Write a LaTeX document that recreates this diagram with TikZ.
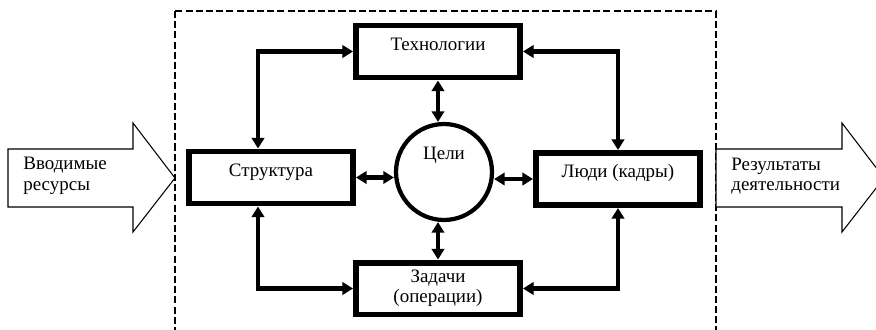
\documentclass[tikz,border=0pt]{standalone}
\usepackage{fontspec}
\setmainfont{Liberation Serif}
\usetikzlibrary{arrows.meta,calc}
\tikzstyle{blk}=[rectangle, draw, line width=3.4pt, fill=white, minimum width=3.28cm, minimum height=1.04cm, align=center]
\tikzstyle{blktop}=[text height=8pt, text depth=9.5pt]
\tikzstyle{aimc}=[circle, draw, line width=2.4pt, fill=white, minimum size=1.92cm, inner sep=0pt, text height=8pt, text depth=22pt]
\tikzstyle{link}=[line width=2.6pt, arrows={Triangle[length=6pt,width=7pt]-Triangle[length=6pt,width=7pt]}]
\tikzstyle{bigarr}=[draw, line width=0.6pt, fill=white]
\tikzstyle{lbl}=[align=left, inner sep=0pt, anchor=west]

\begin{document}
\begin{tikzpicture}[x=0.02cm, y=-0.02cm, font=\fontsize{10.8}{11.6}\selectfont]

\clip (0,0) rectangle (876,329);

% dashed border of the system
\draw[line width=0.75pt, dash pattern=on 4pt off 1.8pt] (175,11) rectangle (716,345);

% inputs and outputs
\draw[bigarr] (8,149) -- (133,149) -- (133,123) -- (175,178) -- (133,232) -- (133,207) -- (8,207) -- cycle;
\draw[bigarr] (716,149) -- (842,149) -- (842,123) -- (884,178) -- (842,232) -- (842,207) -- (716,207) -- cycle;
\node[lbl] (src) at (23,176) {Вводимые\\ресурсы};
\node[lbl] (res) at (731,176) {Результаты\\деятельности};

\node[blk, blktop] (tech) at (438,51.5) {Технологии};
\node[blk, blktop] (struct) at (271,177.5) {Структура};
\node[blk, blktop] (people) at (618,179) {Люди (кадры)};
\node[blk] (tasks) at (438,288.5) {Задачи\\(операции)};
\node[aimc] (aim) at (444,172) {Цели};

\draw[link] (tech.west) -| ($(struct.north)+(-13,0)$);
\draw[link] (tasks.west) -| ($(struct.south)+(-13,0)$);
\draw[link] (tech.east) -| (people.north);
\draw[link] (tasks.east) -| (people.south);
\draw[link] (struct.east) -- (struct.east -| aim.west);
\draw[link] (people.west) -- (people.west -| aim.east);
\draw[link] (tech.south) -- (tech.south |- aim.north);
\draw[link] (tasks.north) -- (tasks.north |- aim.south);

\end{tikzpicture}
\end{document}
